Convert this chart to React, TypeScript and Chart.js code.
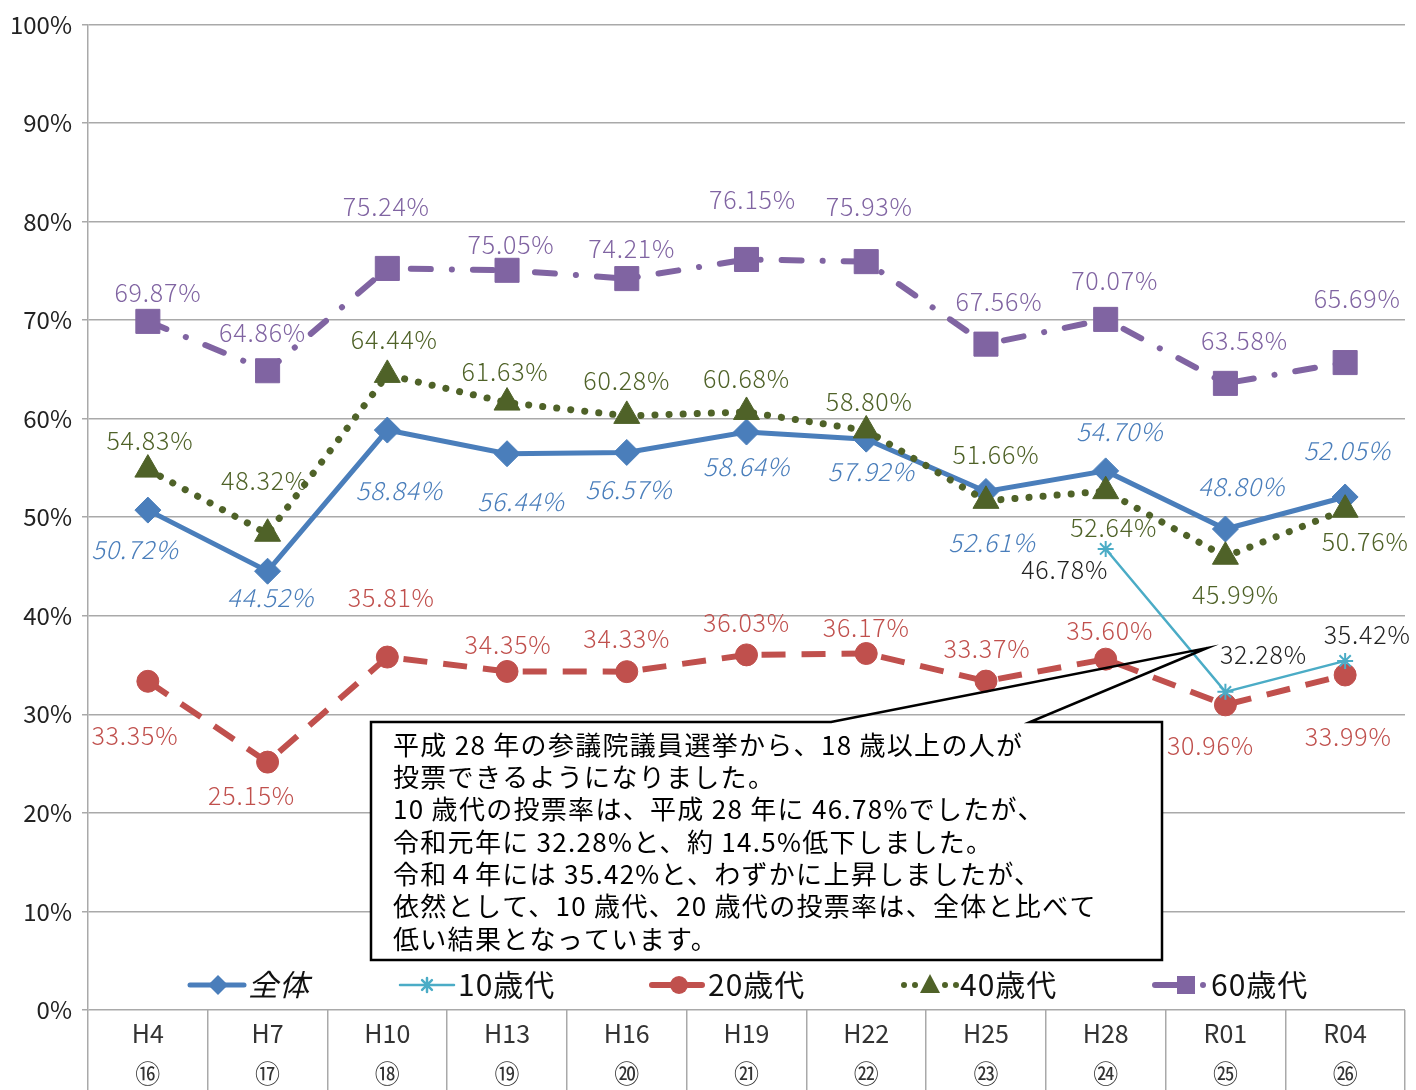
import React, { useEffect, useRef } from "react";
import { Chart, registerables } from "chart.js";

Chart.register(...registerables);

// ---------- data ----------
const categories = ["H4", "H7", "H10", "H13", "H16", "H19", "H22", "H25", "H28", "R01", "R04"];
const electionNumbers = ["⑯", "⑰", "⑱", "⑲", "⑳", "㉑", "㉒", "㉓", "㉔", "㉕", "㉖"];
const totalRates = [50.72, 44.52, 58.84, 56.44, 56.57, 58.64, 57.92, 52.61, 54.7, 48.8, 52.05];
const teensRates = [null, null, null, null, null, null, null, null, 46.78, 32.28, 35.42];
const twentiesRates = [33.35, 25.15, 35.81, 34.35, 34.33, 36.03, 36.17, 33.37, 35.6, 30.96, 33.99];
const fortiesRates = [54.83, 48.32, 64.44, 61.63, 60.28, 60.68, 58.8, 51.66, 52.64, 45.99, 50.76];
const sixtiesRates = [69.87, 64.86, 75.24, 75.05, 74.21, 76.15, 75.93, 67.56, 70.07, 63.58, 65.69];
const seriesNames = ["全体", "10歳代", "20歳代", "40歳代", "60歳代"];
const yTickValues = [0, 10, 20, 30, 40, 50, 60, 70, 80, 90, 100];
const noteLines = [
  "平成 28 年の参議院議員選挙から、18 歳以上の人が",
  "投票できるようになりました。",
  "10 歳代の投票率は、平成 28 年に 46.78%でしたが、",
  "令和元年に 32.28%と、約 14.5%低下しました。",
  "令和４年には 35.42%と、わずかに上昇しましたが、",
  "依然として、10 歳代、20 歳代の投票率は、全体と比べて",
  "低い結果となっています。",
];

// ---------- styles ----------
const BLUE = "#4a7ebb";
const CYAN = "#4bacc6";
const RED = "#c0504d";
const OLIVE = "#4f6228";
const PURPLE = "#8064a2";
const GRID = "#a9a9a9";
const FONT = "'Noto Sans CJK JP', 'Noto Sans', sans-serif";

// label offsets [dx, dy] relative to each point
const labelOffsets: Record<number, [number, number][]> = {
  0: [[-13, 39], [3, 26], [12, 60], [14, 48], [2, 37], [0, 34], [5, 32], [6, 51], [14, -39], [16, -43], [2, -46]],
  1: [[0, 0], [0, 0], [0, 0], [0, 0], [0, 0], [0, 0], [0, 0], [0, 0], [-41, 21], [38, -37], [22, -26]],
  2: [[-13, 54], [-16, 33], [4, -60], [1, -27], [0, -33], [0, -32], [0, -26], [1, -33], [4, -29], [-15, 41], [3, 62]],
  3: [[2, -29], [-3, -53], [7, -35], [-2, -31], [0, -35], [0, -33], [3, -29], [10, -46], [8, 36], [10, 38], [20, 32]],
  4: [[10, -29], [-5, -38], [-1, -62], [4, -26], [5, -30], [6, -60], [3, -55], [13, -43], [9, -39], [19, -43], [12, -64]],
};
const labelColors = [BLUE, "#222222", RED, OLIVE, PURPLE];
const labelItalic = [true, false, false, false, false];

const fmt = (v: number) => v.toFixed(2) + "%";

const valueLabelsPlugin = {
  id: "valueLabels",
  afterDatasetsDraw(chart: any) {
    const ctx = chart.ctx;
    ctx.save();
    chart.data.datasets.forEach((ds: any, di: number) => {
      const meta = chart.getDatasetMeta(di);
      meta.data.forEach((pt: any, i: number) => {
        const v = ds.data[i];
        if (v === null || v === undefined) return;
        const [dx, dy] = labelOffsets[di][i];
        ctx.font = `${labelItalic[di] ? "italic " : ""}300 25px ${FONT}`;
        ctx.letterSpacing = "0.8px";
        ctx.fillStyle = labelColors[di];
        ctx.textAlign = "center";
        ctx.textBaseline = "middle";
        ctx.fillText(fmt(v), pt.x + dx, pt.y + dy);
      });
    });
    ctx.restore();
  },
};

function drawDiamond(ctx: CanvasRenderingContext2D, x: number, y: number, r: number) {
  ctx.beginPath();
  ctx.moveTo(x, y - r);
  ctx.lineTo(x + r, y);
  ctx.lineTo(x, y + r);
  ctx.lineTo(x - r, y);
  ctx.closePath();
  ctx.fill();
}

const legendPlugin = {
  id: "customLegend",
  afterDraw(chart: any) {
    const ctx: CanvasRenderingContext2D = chart.ctx;
    const y = 985;
    const starts = [190, 400, 650, 902, 1153];
    ctx.save();
    // 全体
    let x = starts[0];
    ctx.strokeStyle = BLUE;
    ctx.fillStyle = BLUE;
    ctx.lineWidth = 5;
    ctx.lineCap = "round";
    ctx.beginPath();
    ctx.moveTo(x, y);
    ctx.lineTo(x + 54, y);
    ctx.stroke();
    drawDiamond(ctx, x + 28, y, 10);
    // 10歳代
    x = starts[1];
    ctx.strokeStyle = CYAN;
    ctx.lineWidth = 2.5;
    ctx.beginPath();
    ctx.moveTo(x, y);
    ctx.lineTo(x + 54, y);
    ctx.stroke();
    ctx.beginPath();
    const cx = x + 27;
    const r = 7;
    ctx.moveTo(cx, y - r); ctx.lineTo(cx, y + r);
    ctx.moveTo(cx - r * 0.7, y - r * 0.7); ctx.lineTo(cx + r * 0.7, y + r * 0.7);
    ctx.moveTo(cx + r * 0.7, y - r * 0.7); ctx.lineTo(cx - r * 0.7, y + r * 0.7);
    ctx.stroke();
    // 20歳代
    x = starts[2];
    ctx.strokeStyle = RED;
    ctx.fillStyle = RED;
    ctx.lineWidth = 6;
    ctx.lineCap = "round";
    ctx.beginPath();
    ctx.moveTo(x + 2, y); ctx.lineTo(x + 24, y);
    ctx.moveTo(x + 38, y); ctx.lineTo(x + 52, y);
    ctx.stroke();
    ctx.beginPath();
    ctx.arc(x + 29, y, 9, 0, Math.PI * 2);
    ctx.fill();
    // 40歳代
    x = starts[3];
    ctx.fillStyle = OLIVE;
    [2, 13, 43, 54].forEach((o) => {
      ctx.beginPath();
      ctx.arc(x + o, y, 3, 0, Math.PI * 2);
      ctx.fill();
    });
    ctx.beginPath();
    ctx.moveTo(x + 28, y - 11);
    ctx.lineTo(x + 38, y + 8);
    ctx.lineTo(x + 18, y + 8);
    ctx.closePath();
    ctx.fill();
    // 60歳代
    x = starts[4];
    ctx.strokeStyle = PURPLE;
    ctx.fillStyle = PURPLE;
    ctx.lineWidth = 6;
    ctx.beginPath();
    ctx.moveTo(x + 2, y); ctx.lineTo(x + 26, y);
    ctx.stroke();
    ctx.fillRect(x + 24, y - 9, 18, 18);
    ctx.beginPath();
    ctx.arc(x + 50, y, 3, 0, Math.PI * 2);
    ctx.fill();

    // texts
    ctx.fillStyle = "#111111";
    ctx.textAlign = "left";
    ctx.textBaseline = "middle";
    ctx.letterSpacing = "1px";
    seriesNames.forEach((name, i) => {
      ctx.font = `${i === 0 ? "italic " : ""}30px ${FONT}`;
      ctx.fillText(name, starts[i] + 58, y);
    });
    ctx.restore();
  },
};

const notePlugin = {
  id: "noteBox",
  afterDraw(chart: any) {
    const ctx: CanvasRenderingContext2D = chart.ctx;
    const L = 371, T = 722, R = 1162, B = 960;
    ctx.save();
    ctx.fillStyle = "#ffffff";
    ctx.fillRect(L, T, R - L, B - T);
    ctx.strokeStyle = "#000000";
    ctx.lineWidth = 2.5;
    ctx.lineJoin = "miter";
    ctx.beginPath();
    ctx.moveTo(831, T);
    ctx.lineTo(1207, 648);
    ctx.lineTo(1030, T);
    ctx.lineTo(R, T);
    ctx.lineTo(R, B);
    ctx.lineTo(L, B);
    ctx.lineTo(L, T);
    ctx.closePath();
    ctx.stroke();
    ctx.fillStyle = "#000000";
    ctx.font = `26px ${FONT}`;
    ctx.letterSpacing = "1.3px";
    ctx.textAlign = "left";
    ctx.textBaseline = "middle";
    noteLines.forEach((line, i) => {
      ctx.fillText(line, 393, 745 + i * 32.3);
    });
    ctx.restore();
  },
};

export default function App() {
  const canvasRef = useRef<HTMLCanvasElement | null>(null);

  useEffect(() => {
    if (!canvasRef.current) return;
    const chart = new Chart(canvasRef.current, {
      type: "line",
      data: {
        labels: categories.map((c, i) => [c, electionNumbers[i]]),
        datasets: [
          {
            label: seriesNames[0],
            data: totalRates,
            borderColor: BLUE,
            backgroundColor: BLUE,
            borderWidth: 5,
            pointStyle: "rectRot",
            pointRadius: 13,
            pointBorderWidth: 1,
            order: 2,
          },
          {
            label: seriesNames[1],
            data: teensRates,
            borderColor: CYAN,
            backgroundColor: CYAN,
            borderWidth: 2.5,
            pointStyle: "star",
            pointRadius: 8,
            pointBorderWidth: 2,
            order: 0,
          },
          {
            label: seriesNames[2],
            data: twentiesRates,
            borderColor: RED,
            backgroundColor: RED,
            borderWidth: 6,
            borderDash: [24, 16],
            pointStyle: "circle",
            pointRadius: 11,
            pointBorderWidth: 1,
            order: 3,
          },
          {
            label: seriesNames[3],
            data: fortiesRates,
            borderColor: OLIVE,
            backgroundColor: OLIVE,
            borderWidth: 7,
            borderDash: [0.1, 14],
            borderCapStyle: "round",
            pointStyle: "triangle",
            pointRadius: 15,
            pointBorderWidth: 1,
            order: 1,
          },
          {
            label: seriesNames[4],
            data: sixtiesRates,
            borderColor: PURPLE,
            backgroundColor: PURPLE,
            borderWidth: 6,
            borderDash: [20, 21, 0.1, 21],
            borderCapStyle: "round",
            pointStyle: "rect",
            pointRadius: 17,
            pointBorderWidth: 1,
            order: 4,
          },
        ],
      },
      options: {
        responsive: false,
        animation: false,
        layout: { autoPadding: false, padding: { left: 0, right: 11, top: 24, bottom: 0 } },
        plugins: {
          legend: { display: false },
          tooltip: { enabled: false },
        },
        scales: {
          x: {
            type: "category",
            offset: true,
            grid: {
              offset: true,
              drawOnChartArea: false,
              drawTicks: true,
              tickLength: 80,
              color: GRID,
              lineWidth: 1.5,
            },
            border: { display: false },
            ticks: {
              padding: -77,
              autoSkip: false,
              maxRotation: 0,
              color: "#333333",
              font: { family: FONT, size: 25, lineHeight: 1.62 },
            },
            afterFit: (s: any) => {
              s.height = 80;
            },
          },
          y: {
            min: 0,
            max: 100,
            afterBuildTicks: (s: any) => {
              s.ticks = yTickValues.map((v) => ({ value: v }));
            },
            ticks: {
              padding: 10,
              color: "#222222",
              font: { family: FONT, size: 24 },
              callback: (v: any) => v + "%",
            },
            grid: { color: GRID, lineWidth: 1.5, tickLength: 6 },
            border: { color: GRID, width: 1.5 },
            afterFit: (s: any) => {
              s.width = 88;
            },
          },
        },
      },
      plugins: [valueLabelsPlugin, notePlugin, legendPlugin],
    } as any);
    return () => chart.destroy();
  }, []);

  return (
    <div style={{ position: "absolute", left: 0, top: 0, width: 1416, height: 1090, background: "#ffffff" }}>
      <canvas ref={canvasRef} width={1416} height={1090} />
    </div>
  );
}
